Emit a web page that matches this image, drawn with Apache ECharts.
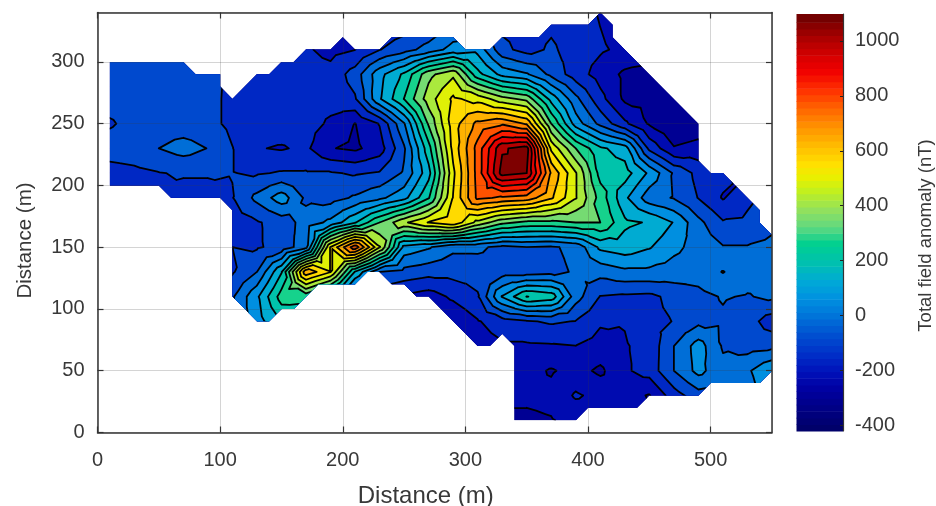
<!DOCTYPE html>
<html><head><meta charset="utf-8">
<style>html,body{margin:0;padding:0;background:#fff}#c{width:936px;height:506px;filter:blur(0.5px)}</style>
<script src="https://cdn.jsdelivr.net/npm/echarts@6/dist/echarts.min.js"></script>
</head><body><div id="c"></div>
<script>
const xs=[10,30,50,70,90,110,130,150,170,190,210,230,250,270,290,310,330,350,370,390,410,430,450,470,490,510,530,550];
const ys=[350,330,310,290,270,250,230,210,190,170,150,130,110,90,70,50,30,10];
const y350=[-100,-100,-100,-100,-100,-170,-170,-170,-190,-230,-230,-190,-170,-150,-60,-60,-150,-170,-150,-175,-215,-250,-270,-300,-310,-320,-320,-320];
const y330=[-100,-100,-100,-100,-100,-170,-170,-170,-190,-230,-225,-185,-165,-130,-50,-50,-150,-165,-145,-170,-205,-240,-270,-300,-310,-320,-320,-320];
const y310=[-100,-100,-100,-100,-110,-170,-170,-170,-195,-225,-205,-135,-90,-30,40,60,-110,-160,-120,-165,-195,-220,-250,-280,-300,-310,-320,-320];
const y290=[-100,-100,-100,-100,-105,-150,-175,-175,-175,-180,-100,60,170,350,430,180,60,20,-80,-170,-235,-290,-300,-310,-320,-320,-320,-320];
const y270=[-105,-100,-100,-100,-110,-150,-175,-175,-175,-180,-140,75,230,410,530,490,400,350,130,-40,-180,-290,-300,-320,-330,-330,-330,-330];
const y250=[-140,-110,-100,-100,-110,-150,-175,-170,-175,-215,-278,-200,5,310,555,680,720,650,300,50,-80,-190,-285,-340,-320,-320,-320,-320];
const y230=[-100,-90,-60,-30,-62,-130,-200,-210,-190,-272,-290,-240,-70,200,540,760,1010,1050,500,300,170,120,-150,-270,-250,-320,-320,-320];
const y210=[-160,-150,-135,-125,-125,-130,-140,-125,-125,-125,-140,-125,-50,130,500,760,1050,1020,650,450,200,190,70,-70,-155,-180,-300,-300];
const y190=[-150,-150,-130,-160,-160,-135,-40,50,-75,-90,-50,-5,60,220,520,750,720,700,600,450,270,100,-30,-65,-135,-210,-145,-120];
const y170=[-170,-170,-170,-170,-170,-170,-140,-100,-30,30,150,300,430,520,570,420,320,280,280,300,300,170,150,80,-40,-125,-120,-80];
const y150=[-170,-170,-170,-170,-170,-132,-140,-110,-10,520,780,450,60,20,-45,-45,-80,-60,-70,-40,100,125,90,30,-15,-55,-55,-40];
const y130=[-170,-170,-170,-170,-170,-140,-60,150,640,520,150,-60,-85,-105,-105,-100,-95,-95,-85,-50,-35,-5,-5,-20,-30,15,-30,-40];
const y110=[-170,-170,-170,-170,-170,-70,70,260,250,100,-100,-180,-215,-240,-190,-140,90,230,200,-30,-135,-145,-150,-110,-80,-55,-65,-45];
const y90=[-100,-100,-100,-100,-100,-50,50,160,180,100,-50,-170,-250,-280,-270,-210,-165,-140,-122,-135,-195,-200,-150,-130,-80,-70,-100,-170];
const y70=[-150,-150,-150,-150,-150,-150,-150,-150,-150,-150,-200,-230,-260,-280,-270,-240,-215,-215,-212,-205,-230,-210,-180,-60,45,-68,-90,-80];
const y50=[-150,-150,-150,-150,-150,-150,-150,-150,-150,-150,-200,-230,-250,-250,-250,-245,-245,-250,-283,-250,-290,-215,-175,-60,35,-40,0,80];
const y30=[-150,-150,-150,-150,-150,-150,-150,-150,-150,-150,-200,-230,-250,-260,-260,-260,-260,-262,-255,-195,-225,-255,-280,-165,-90,-60,-20,40];
const y10=[-150,-150,-150,-150,-150,-150,-150,-150,-150,-150,-200,-230,-250,-270,-280,-290,-290,-290,-280,-255,-240,-250,-260,-240,-200,-150,-120,-100];
const matrix=[y350,y330,y310,y290,y270,y250,y230,y210,y190,y170,y150,y130,y110,y90,y70,y50,y30,y10];
const levels=[-348,-276,-204,-132,-60,12,84,156,228,300,372,444,516,588,660,732,804,876,948,1020];
const outline=[[10,300],[70,300],[80,290],[100,290],[100,280],[110,270],[130,290],[140,290],[150,300],[160,300],[170,310],[190,310],[200,320],[210,310],[230,310],[240,320],[290,320],[300,310],[320,310],[330,320],[360,320],[370,330],[400,330],[410,340],[420,330],[420,320],[490,250],[490,220],[500,210],[510,210],[540,180],[540,170],[550,160],[550,50],[540,40],[500,40],[490,30],[450,30],[440,20],[400,20],[390,10],[340,10],[340,70],[330,80],[320,70],[310,70],[270,110],[260,110],[250,120],[240,120],[230,130],[220,130],[210,120],[180,120],[160,100],[150,100],[140,90],[130,90],[110,110],[110,180],[100,190],[60,190],[50,200],[10,200]];
const colorValues=[-420,-340,-280,-220,-150,-80,-20,50,110,180,250,310,370,440,490,540,600,680,750,810,880,930,990,1040,1100];
const colorHex=['#00006a','#000088','#0000a0','#0010b8','#0030c8','#0050d0','#0070d8','#0090e0','#00a8d8','#00c0b0','#00d090','#60d880','#90e060','#c0f020','#e8f000','#ffe000','#ffc000','#ff9000','#ff6000','#ff3000','#f00000','#d80000','#b00000','#8b0000','#5a0000'];
const barTicks=[-400,-200,0,200,400,600,800,1000];
const xTicks=[0,100,200,300,400,500];
const yTicks=[0,50,100,150,200,250,300];
const barSteps=[-420,-396,-372,-348,-324,-300,-276,-252,-228,-204,-180,-156,-132,-108,-84,-60,-36,-12,12,36,60,84,108,132,156,180,204,228,252,276,300,324,348,372,396,420,444,468,492,516,540,564,588,612,636,660,684,708,732,756,780,804,828,852,876,900,924,948,972,996,1020,1044,1068];
const barTop=1098;
const bandHalf=36;

function hex2(h){return [1,3,5].map(i=>parseInt(h.substr(i,2),16));}
function colorAt(v){
  let i=0;while(i<colorValues.length-2&&v>colorValues[i+1])i++;
  const t=Math.max(0,Math.min(1,(v-colorValues[i])/(colorValues[i+1]-colorValues[i])));
  const a=hex2(colorHex[i]),b=hex2(colorHex[i+1]);
  return 'rgb('+a.map((c,k)=>Math.round(c+(b[k]-c)*t)).join(',')+')';
}
const tris=[];
for(let r=0;r<ys.length-1;r++)for(let c=0;c<xs.length-1;c++){
  const A=[xs[c],ys[r],matrix[r][c]],B=[xs[c+1],ys[r],matrix[r][c+1]],C=[xs[c+1],ys[r+1],matrix[r+1][c+1]],D=[xs[c],ys[r+1],matrix[r+1][c]];
  const M=[(A[0]+B[0])/2,(A[1]+D[1])/2,(A[2]+B[2]+C[2]+D[2])/4];
  tris.push([A,B,M],[B,C,M],[C,D,M],[D,A,M]);
}
function lerp(p,q,L){const t=(L-p[2])/(q[2]-p[2]);return [p[0]+(q[0]-p[0])*t,p[1]+(q[1]-p[1])*t,L];}
function clipAbove(tri,L){
  const out=[];
  for(let i=0;i<3;i++){const p=tri[i],q=tri[(i+1)%3];
    const pin=p[2]>=L,qin=q[2]>=L;
    if(pin)out.push(p);
    if(pin!==qin)out.push(lerp(p,q,L));
  }
  return out;
}
function crossing(tri,L){
  const out=[];
  for(let i=0;i<3;i++){const p=tri[i],q=tri[(i+1)%3];
    if((p[2]>=L)!==(q[2]>=L))out.push(lerp(p,q,L));
  }
  return out.length===2?out:null;
}
function renderMap(params,api){
  const P=p=>{const v=api.coord([p[0],p[1]]);return v[0].toFixed(2)+' '+v[1].toFixed(2);};
  const kids=[];
  const band=(L,color)=>{
    let d='';
    for(const t of tris){const poly=L===null?t:clipAbove(t,L);
      if(poly.length>=3)d+='M'+poly.map(P).join('L')+'Z';}
    if(d)kids.push({type:'path',shape:{pathData:d},style:{fill:color,stroke:null}});
  };
  band(null,colorAt(-400));
  for(const L of levels)band(L,colorAt(L+bandHalf));
  let lines='';
  for(const L of levels)for(const t of tris){const s=crossing(t,L);if(s)lines+='M'+P(s[0])+'L'+P(s[1]);}
  kids.push({type:'path',shape:{pathData:lines},style:{fill:null,stroke:'#000',lineWidth:1.8,lineJoin:'round',lineCap:'round'}});
  return {type:'group',children:kids,clipPath:{type:'polygon',shape:{points:outline.map(p=>api.coord(p))}}};
}
function renderBar(params,api){
  const v=api.value(0);
  const top=params.dataIndex===barSteps.length-1?barTop:barSteps[params.dataIndex+1];
  const a=api.coord([0,v]),b=api.coord([1,top]);
  return {type:'rect',shape:{x:a[0],y:b[1],width:b[0]-a[0],height:a[1]-b[1]+0.6},style:{fill:colorAt(v)}};
}
const txt='#383838',font='"Liberation Sans",Arial,sans-serif';
const plain=v=>String(v);
const frame={onZero:false,lineStyle:{color:'#333',width:1.5}};
const chart=echarts.init(document.getElementById('c'),null,{renderer:'canvas'});
chart.setOption({
  animation:false,
  backgroundColor:'#fff',
  grid:[{left:97.5,top:12.5,width:674.5,height:420,outerBoundsMode:'none'},{left:796.5,top:14,width:46.5,height:417,outerBoundsMode:'none'}],
  xAxis:[
    {type:'value',min:0,max:550,z:6,gridIndex:0,position:'bottom',
     name:'Distance (m)',nameLocation:'middle',nameGap:52,nameTextStyle:{fontSize:24,color:txt,fontFamily:font,padding:[0,18,0,0]},
     axisLine:frame,axisTick:{inside:true,length:6,customValues:xTicks,lineStyle:{color:'#333',width:1.2}},
     axisLabel:{fontSize:20,color:txt,fontFamily:font,margin:18,customValues:xTicks,formatter:plain},
     splitLine:{show:false}},
    {type:'value',min:0,max:550,z:6,gridIndex:0,position:'top',
     axisLine:frame,axisTick:{inside:true,length:6,customValues:xTicks,lineStyle:{color:'#333',width:1.2}},
     axisLabel:{show:false},splitLine:{show:false}},
    {type:'value',min:0,max:1,gridIndex:1,show:false},
    {type:'value',min:0,max:550,interval:100,z:5,gridIndex:0,position:'bottom',
     axisLine:{show:false},axisTick:{show:false},axisLabel:{show:false},
     splitLine:{show:true,lineStyle:{color:'rgba(60,60,60,0.22)',width:1}}}
  ],
  yAxis:[
    {type:'value',min:0,max:340,z:6,gridIndex:0,position:'left',
     name:'Distance (m)',nameLocation:'middle',nameGap:62,nameTextStyle:{fontSize:20.5,color:txt,fontFamily:font,padding:[0,36,0,0]},
     axisLine:frame,axisTick:{inside:true,length:6,customValues:yTicks,lineStyle:{color:'#333',width:1.2}},
     axisLabel:{fontSize:20,color:txt,fontFamily:font,margin:13,padding:[3,0,0,0],customValues:yTicks,formatter:plain},
     splitLine:{show:false}},
    {type:'value',min:0,max:340,z:6,gridIndex:0,position:'right',
     axisLine:frame,axisTick:{inside:true,length:6,customValues:yTicks,lineStyle:{color:'#333',width:1.2}},
     axisLabel:{show:false},splitLine:{show:false}},
    {type:'value',min:-420,max:1098,gridIndex:1,position:'right',z:6,
     name:'Total field anomaly (nT)',nameLocation:'middle',nameGap:73,nameRotate:90,
     nameTextStyle:{fontSize:18.5,color:txt,fontFamily:font,padding:[0,26,0,0]},
     axisLine:{show:true,onZero:false,lineStyle:{color:'#333',width:1.2}},
     axisTick:{show:true,inside:true,length:3,customValues:barTicks,lineStyle:{color:'#222',width:1}},
     axisLabel:{fontSize:20,color:txt,fontFamily:font,margin:12,padding:[2,0,0,0],customValues:barTicks,formatter:plain},
     splitLine:{show:false}},
    {type:'value',min:0,max:340,interval:50,z:5,gridIndex:0,position:'left',
     axisLine:{show:false},axisTick:{show:false},axisLabel:{show:false},
     splitLine:{show:true,lineStyle:{color:'rgba(60,60,60,0.22)',width:1}}}
  ],
  series:[
    {type:'custom',name:'Total field anomaly',coordinateSystem:'cartesian2d',xAxisIndex:0,yAxisIndex:0,z:2,silent:true,data:[[0,0]],renderItem:renderMap,clip:true},
    {type:'custom',name:'Colour bar',coordinateSystem:'cartesian2d',xAxisIndex:2,yAxisIndex:2,z:2,silent:true,data:barSteps.map(v=>[v]),encode:{y:0},renderItem:renderBar}
  ]
});
</script></body></html>
